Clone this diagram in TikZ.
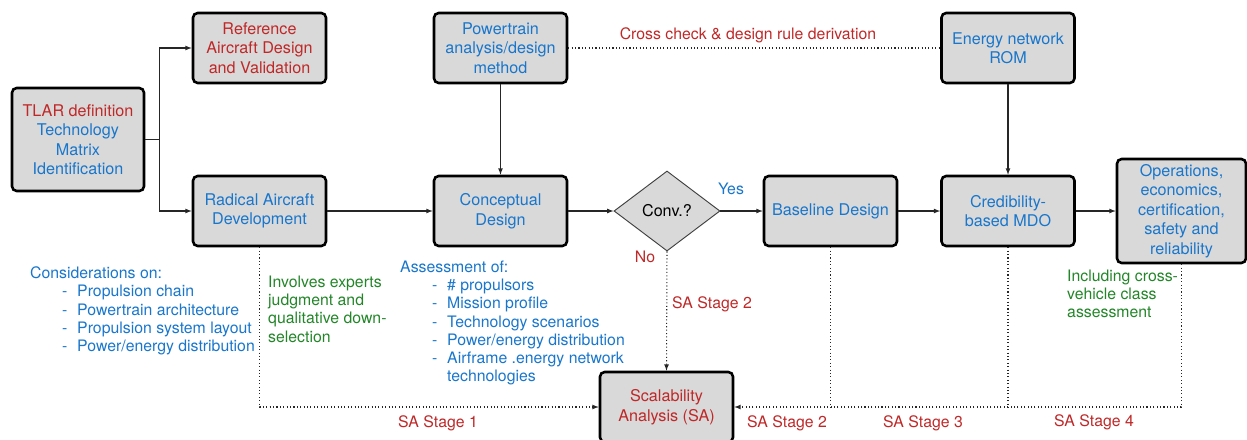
\documentclass[tikz,border=0pt]{standalone}
\usepackage{fontspec}
\setmainfont{TeX Gyre Heros}
\usepackage{xcolor}
\usetikzlibrary{shapes,arrows,positioning,calc}

\definecolor{txtred}{RGB}{192,40,40}
\definecolor{txtblue}{RGB}{24,118,204}
\definecolor{txtgreen}{RGB}{34,134,40}
\definecolor{boxgray}{RGB}{217,217,217}

\newcommand{\lstitem}[1]{\hspace*{0.96cm}\makebox[0.45cm][l]{-}#1}

\begin{document}
\begin{tikzpicture}[x=0.03cm, y=-0.03cm,
    blk/.style={rectangle, rounded corners=4pt, draw=black, line width=2.2pt, fill=boxgray,
        minimum height=2.1cm, minimum width=3.99cm, inner sep=2pt, align=center, text=txtblue,
        font=\fontsize{13.8}{16.6}\selectfont},
    dec/.style={diamond, draw=black!75, line width=0.8pt, fill=boxgray, inner sep=0pt,
        minimum width=3.18cm, minimum height=2.4cm, font=\fontsize{13.8}{16.6}\selectfont},
    note/.style={inner sep=0pt, align=left, anchor=north west, font=\fontsize{13.5}{15.6}\selectfont},
    lbl/.style={inner sep=0pt, text=txtred, font=\fontsize{13.5}{15.6}\selectfont},
    line/.style={draw, line width=0.9pt, black!85},
    sadot/.style={draw, dotted, line width=0.9pt, black!85}
]
    \useasboundingbox (0,0) rectangle (1247,439);

    % boxes
    \node[blk, minimum width=3.96cm, minimum height=3.09cm] (tlar) at (78,139.5)
        {\textcolor{txtred}{TLAR definition}\\Technology\\Matrix\\Identification};
    \node[blk, text=txtred] (refac) at (259.5,48) {Reference\\Aircraft Design\\and Validation};
    \node[blk] (radical) at (259.5,211) {Radical Aircraft\\Development};
    \node[blk] (ptrain) at (500.5,48) {Powertrain\\analysis/design\\method};
    \node[blk] (concept) at (500.5,211) {Conceptual\\Design};
    \node[dec] (conv) at (667,211) {Conv.?};
    \node[blk] (baseline) at (830.5,211) {Baseline Design};
    \node[blk] (rom) at (1008,48) {Energy network\\ROM};
    \node[blk] (cred) at (1008,211) {Credibility-\\based MDO};
    \node[blk, minimum width=3.87cm, minimum height=3.12cm] (ops) at (1181.5,211)
        {Operations,\\economics,\\certification,\\safety and\\reliability};
    \node[blk, text=txtred] (scal) at (666.5,407) {Scalability\\Analysis (SA)};

    % notes
    \node[note, text=txtblue] (consid) at (30,266.5)
        {Considerations on:\\\lstitem{Propulsion chain}\\\lstitem{Powertrain architecture}\\
        \lstitem{Propulsion system layout}\\\lstitem{Power/energy distribution}};
    \node[note, text=txtgreen] (involves) at (268,275.5)
        {Involves experts\\judgment and\\qualitative down-\\selection};
    \node[note, text=txtblue] (assess) at (400,260.5)
        {Assessment of:\\\lstitem{\# propulsors}\\\lstitem{Mission profile}\\\lstitem{Technology scenarios}\\
        \lstitem{Power/energy distribution}\\\lstitem{Airframe .energy network}\\\hspace*{1.41cm}technologies};
    \node[note, text=txtgreen] (incl) at (1067,269.5)
        {Including cross-\\vehicle class\\assessment};

    % labels
    \node[lbl] (crosslbl) at (748,35) {Cross check \& design rule derivation};
    \node[lbl, text=txtblue] (yeslbl) at (731,189) {Yes};
    \node[lbl] (nolbl) at (645,257) {No};
    \node[lbl] (sa2a) at (712,304) {SA Stage 2};
    \node[lbl] (sa1) at (438,423) {SA Stage 1};
    \node[lbl] (sa2b) at (787,423) {SA Stage 2};
    \node[lbl] (sa3) at (923,423) {SA Stage 3};
    \node[lbl] (sa4) at (1094,422) {SA Stage 4};

    % solid flow
    \coordinate (split) at ($(tlar.east)+(14,0)$);
    \path[line] (tlar.east) -- (split);
    \path[line, -latex] (split) |- (refac.west);
    \path[line, -latex] (split) |- (radical.west);
    \path[line, -latex] (radical) -- (concept);
    \path[line, -latex] (ptrain) -- (concept);
    \path[line, -latex] (concept) -- (conv);
    \path[line, -latex] (conv) -- (baseline);
    \path[line, -latex] (baseline) -- (cred);
    \path[line, -latex] (rom) -- (cred);
    \path[line, -latex] (cred) -- (ops);

    % dotted SA links
    \path[sadot] (ptrain.east) -- (rom.west);
    \path[sadot, -latex] (conv.south) -- (scal.north);
    \path[sadot, -latex] (radical.south) |- (scal.west);
    \path[sadot] (baseline.south) -- (baseline.south |- scal.east);
    \path[sadot] (cred.south) -- (cred.south |- scal.east);
    \path[sadot, -latex] (ops.south) |- (scal.east);
\end{tikzpicture}
\end{document}
